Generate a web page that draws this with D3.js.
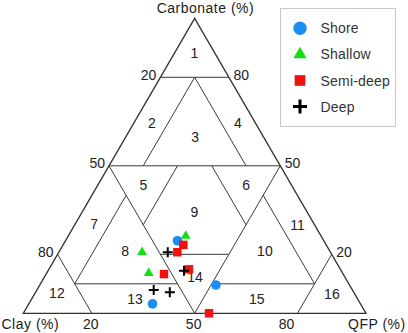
<!DOCTYPE html>
<html lang="en">
<head>
<meta charset="UTF-8">
<title>Carbonate - Clay - QFP ternary</title>
<script src="https://d3js.org/d3.v7.min.js"></script>
<style>
  body { margin: 0; background: #fff; }
  svg { display: block; font-family: 'Liberation Sans', Arial, sans-serif; }
  .zone, .tick { font-size: 14px; fill: #222; }
  .title { font-size: 14px; fill: #222; letter-spacing: 0.5px; }
  .legend text { font-size: 14px; fill: #333; letter-spacing: 0.2px; }
</style>
</head>
<body>
<script>
// samples as carbonate / clay / QFP (%)
var shore = [
  {carb: 24.6, clay: 42.7, qfp: 32.7},
  {carb: 9.6,  clay: 39.0, qfp: 51.4},
  {carb: 3.2,  clay: 60.7, qfp: 36.1}
];
var shallow = [
  {carb: 26.2, clay: 39.5, qfp: 34.3},
  {carb: 20.7, clay: 55.0, qfp: 24.3},
  {carb: 13.6, clay: 56.6, qfp: 29.8}
];
var semiDeep = [
  {carb: 23.2, clay: 41.7, qfp: 35.1},
  {carb: 20.7, clay: 44.7, qfp: 34.6},
  {carb: 14.9, clay: 44.2, qfp: 40.9},
  {carb: 13.3, clay: 52.3, qfp: 34.4},
  {carb: 0.0,  clay: 45.8, qfp: 54.2}
];
var deep = [
  {carb: 20.7, clay: 47.5, qfp: 31.8},
  {carb: 14.4, clay: 45.9, qfp: 39.7},
  {carb: 7.9,  clay: 58.0, qfp: 34.1},
  {carb: 7.1,  clay: 53.7, qfp: 39.2}
];

var groupNames = ["Shore", "Shallow", "Semi-deep", "Deep"];
var groupColors = ["#1a8ef2", "#12e012", "#f01010", "#000000"];
var tickValues = [20, 50, 80];

// class boundaries, endpoints as [carbonate, qfp]
var boundaries = [
  [[80, 0], [80, 20]],
  [[50, 0], [50, 50]],
  [[80, 10], [50, 10]],
  [[80, 10], [50, 40]],
  [[50, 0], [0, 50]],
  [[50, 50], [0, 50]],
  [[50, 20], [30, 20]],
  [[50, 30], [30, 50]],
  [[40, 10], [10, 10]],
  [[40, 50], [10, 80]],
  [[10, 10], [10, 40]],
  [[10, 50], [10, 80]],
  [[20, 30], [20, 50]],
  [[20, 0], [0, 20]],
  [[20, 80], [0, 80]]
];

// class numbers and where they sit, as [carbonate, qfp]
var zoneIds = ["1","2","3","4","5","6","7","8","9","10","11","12","13","14","15","16"];
var zoneAt = [
  [88.1, 5.9], [64.4, 5.3], [59.9, 20.2], [64.4, 30.4],
  [43.5, 13.3], [43.5, 43.3], [30.3, 5.5], [21.2, 19.1],
  [34.4, 32.7], [21.2, 59.9], [29.9, 65.1], [6.8, 6.4],
  [4.8, 30.2], [12.2, 44.0], [4.8, 65.7], [6.5, 86.8]
];

var width = 408, height = 333;
var svg = d3.select("body").append("svg")
  .attr("width", width)
  .attr("height", height);

var x = d3.scaleLinear().domain([0, 100]).range([23.3, 366]);
var y = d3.scaleLinear().domain([0, 100]).range([313.3, 18.3]);
function proj(c, q) { return [x(q + c / 2), y(c)]; }

// outer triangle
svg.append("path")
  .attr("d", d3.line()([proj(0, 0), proj(0, 100), proj(100, 0)]) + "Z")
  .attr("fill", "none")
  .attr("stroke", "#333")
  .attr("stroke-width", 1.3)
  .attr("stroke-linejoin", "miter");

svg.selectAll("line.bound")
  .data(boundaries)
  .join("line")
  .attr("class", "bound")
  .attr("x1", d => proj(d[0][0], d[0][1])[0])
  .attr("y1", d => proj(d[0][0], d[0][1])[1])
  .attr("x2", d => proj(d[1][0], d[1][1])[0])
  .attr("y2", d => proj(d[1][0], d[1][1])[1])
  .attr("stroke", "#3a3a3a")
  .attr("stroke-width", 1);

svg.selectAll("text.zone")
  .data(zoneIds)
  .join("text")
  .attr("class", "zone")
  .attr("text-anchor", "middle")
  .attr("x", (d, i) => proj(zoneAt[i][0], zoneAt[i][1])[0])
  .attr("y", (d, i) => proj(zoneAt[i][0], zoneAt[i][1])[1])
  .attr("dy", "0.36em")
  .text(d => d);

// tick labels: clay on left edge, carbonate on right edge, QFP on the base
svg.selectAll("text.tl")
  .data(tickValues)
  .join("text")
  .attr("class", "tick tl")
  .attr("text-anchor", "end")
  .attr("x", d => proj(100 - d, 0)[0] - 4)
  .attr("y", d => proj(100 - d, 0)[1] - 2.5)
  .attr("dy", "0.36em")
  .text(d => d);

svg.selectAll("text.tr")
  .data(tickValues)
  .join("text")
  .attr("class", "tick tr")
  .attr("x", d => proj(d, 100 - d)[0] + 4.5)
  .attr("y", d => proj(d, 100 - d)[1] - 2.5)
  .attr("dy", "0.36em")
  .text(d => d);

svg.selectAll("text.tb")
  .data(tickValues)
  .join("text")
  .attr("class", "tick tb")
  .attr("text-anchor", "middle")
  .attr("x", d => x(d) + (d === 80 ? -11 : -1))
  .attr("y", 328.5)
  .text(d => d);

svg.append("text").attr("class", "title")
  .attr("x", proj(100, 0)[0] - 38).attr("y", 12.5)
  .text("Carbonate (%)");
svg.append("text").attr("class", "title")
  .attr("x", 1.5).attr("y", 328.5)
  .text("Clay (%)");
svg.append("text").attr("class", "title")
  .attr("x", 348).attr("y", 328.5)
  .text("QFP (%)");

// markers
function pos(d) { var p = proj(d.carb, d.qfp); return "translate(" + p[0] + "," + p[1] + ")"; }
var plusPath = s => "M" + (-s) + ",0H" + s + "M0," + (-s) + "V" + s;

svg.selectAll("path.shore").data(shore).join("path")
  .attr("class", "shore")
  .attr("transform", pos)
  .attr("d", d3.symbol().type(d3.symbolCircle).size(74))
  .attr("fill", groupColors[0]);

svg.selectAll("path.semi").data(semiDeep).join("path")
  .attr("class", "semi")
  .attr("transform", pos)
  .attr("d", d3.symbol().type(d3.symbolSquare).size(72))
  .attr("fill", groupColors[2]);

svg.selectAll("path.shallow").data(shallow).join("path")
  .attr("class", "shallow")
  .attr("transform", pos)
  .attr("d", d3.symbol().type(d3.symbolTriangle).size(42))
  .attr("fill", groupColors[1]);

svg.selectAll("path.deep").data(deep).join("path")
  .attr("class", "deep")
  .attr("transform", pos)
  .attr("d", plusPath(5))
  .attr("fill", "none")
  .attr("stroke", groupColors[3])
  .attr("stroke-width", 2);

// legend
var legend = svg.append("g").attr("class", "legend");
legend.append("rect")
  .attr("x", 280.5).attr("y", 8.5)
  .attr("width", 115).attr("height", 118)
  .attr("fill", "#fff")
  .attr("stroke", "#c8c8c8");

var legendSymbols = [
  d3.symbol().type(d3.symbolCircle).size(140)(),
  d3.symbol().type(d3.symbolTriangle).size(75)(),
  d3.symbol().type(d3.symbolSquare).size(114)(),
  plusPath(7)
];

var item = legend.selectAll("g.item")
  .data(groupNames)
  .join("g")
  .attr("class", "item")
  .attr("transform", (d, i) => "translate(300," + (28.3 + i * 26.1) + ")");

item.append("path")
  .attr("d", (d, i) => legendSymbols[i])
  .attr("fill", (d, i) => i === 3 ? "none" : groupColors[i])
  .attr("stroke", (d, i) => i === 3 ? "#000" : "none")
  .attr("stroke-width", 3);

item.append("text")
  .attr("x", 20.5)
  .attr("dy", "0.36em")
  .text(d => d);
</script>
</body>
</html>
